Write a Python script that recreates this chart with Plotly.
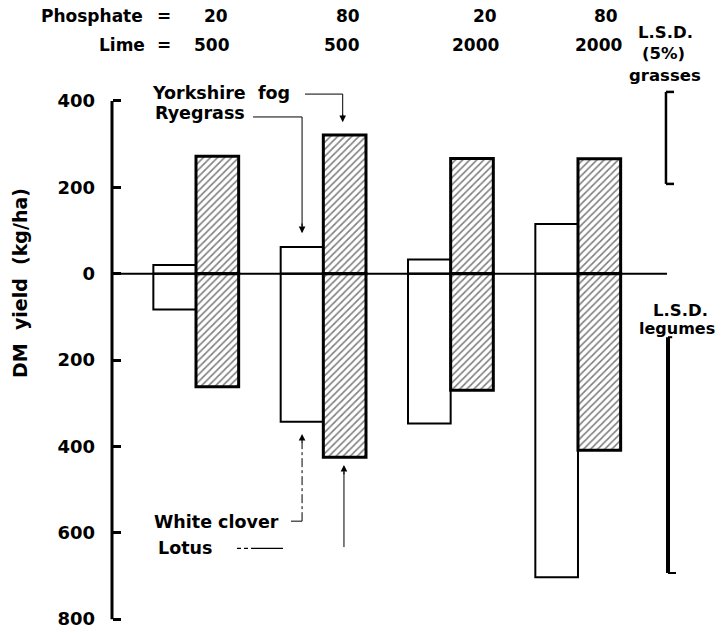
import plotly.graph_objects as go

# ---------------- data ----------------
groups = [1, 2, 3, 4]
phosphate = ['20', '80', '20', '80']
lime = ['500', '500', '2000', '2000']
ryegrass = [20, 62, 33, 115]          # grasses (up)
yorkshire_fog = [272, 321, 267, 266]
white_clover = [83, 343, 347, 703]    # legumes (down)
lotus = [262, 425, 270, 409]
lsd_grasses = [208, 421]              # bracket span (kg/ha, upward)
lsd_legumes = [147, 693]              # bar span (kg/ha, downward)
y_tickvals = [400, 200, 0, -200, -400, -600, -800]
y_ticktext = ['400', '200', '0', '200', '400', '600', '800']

# ---------------- layout constants ----------------
W = 0.335
X_RANGE = [0.1675, 5.1153]
Y_RANGE = [-832, 448.6]
X_AXIS = 0.3403
ML, MR, MT, MB = 90, 1, 80, 0
FIG_W, FIG_H = 721, 633
FONT = 'DejaVu Sans'


def PX(px):
    return (px - ML) / (FIG_W - ML - MR)


def PY(py):
    return (FIG_H - MB - py) / (FIG_H - MT - MB)


fig = go.Figure()
white = dict(color='white', line=dict(color='black', width=2))
hatch = dict(color='white', line=dict(color='black', width=3),
             pattern=dict(shape='/', size=5, solidity=0.32,
                          fgcolor='black', bgcolor='white'))

fig.add_bar(x=groups, y=ryegrass, width=W, offset=-W, marker=white,
            name='Ryegrass')
fig.add_bar(x=groups, y=[-v for v in white_clover], width=W, offset=-W,
            marker=white, name='White clover')
fig.add_bar(x=groups, y=yorkshire_fog, width=W, offset=0, marker=hatch,
            name='Yorkshire fog')
fig.add_bar(x=groups, y=[-v for v in lotus], width=W, offset=0, marker=hatch,
            name='Lotus')

shapes = []


def line(x0, y0, x1, y1, w=1.0, dash='solid'):
    shapes.append(dict(type='line', xref='x', yref='y', x0=x0, y0=y0,
                       x1=x1, y1=y1, line=dict(color='black', width=w, dash=dash)))


# axis line and zero line
line(X_AXIS, -800, X_AXIS, 400, 3)
line(X_AXIS, 0, 4.699, 0, 2)
# LSD grasses bracket
gx0, gx1 = 4.691, 4.754
line(gx1, lsd_grasses[1], gx0, lsd_grasses[1], 2.5)
line(gx0, lsd_grasses[1], gx0, lsd_grasses[0], 2.5)
line(gx0, lsd_grasses[0], gx1, lsd_grasses[0], 2.5)
# LSD legumes bar
lx = 4.707
line(lx, -lsd_legumes[0], lx, -lsd_legumes[1], 4)
line(lx, -lsd_legumes[1], 4.77, -lsd_legumes[1], 2)
line(lx, -lsd_legumes[0], 4.74, -lsd_legumes[0], 2)
# connectors
line(1.856, 416, 2.152, 416, 1)          # Yorkshire fog
line(2.152, 416, 2.152, 360, 1)
line(1.448, 363, 1.833, 363, 1)          # Ryegrass
line(1.833, 363, 1.833, 110, 1)
line(1.746, -573, 1.833, -573, 1)        # White clover
line(1.833, -573, 1.833, -390, 1, 'dashdot')
line(1.322, -636, 1.683, -636, 1.2, '4px,3px,4px,3px,40px')  # Lotus
line(2.162, -633, 2.162, -460, 1)

annotations = []


def arrow(x, y, ay):
    annotations.append(dict(x=x, y=y, ax=x, ay=ay, xref='x', yref='y',
                            axref='x', ayref='y', text='', showarrow=True,
                            arrowhead=2, arrowsize=1.1, arrowwidth=1.2,
                            arrowcolor='black'))


arrow(2.152, 351, 372)
arrow(1.833, 94, 120)
arrow(1.833, -371, -395)
arrow(2.162, -443, -468)


def text(t, px, py, size=17, xanchor='center'):
    annotations.append(dict(text=t, x=PX(px), y=PY(py), xref='paper',
                            yref='paper', showarrow=False, xanchor=xanchor,
                            yanchor='middle',
                            font=dict(family=FONT, size=size, color='black',
                                      weight='bold')))


# header
text('Phosphate', 145, 16, xanchor='right')
text('=', 164, 16)
text('Lime', 147, 45, xanchor='right')
text('=', 164, 45)
ph_x = [216, 348, 485, 606]
li_x = [212, 342, 475, 598]
for i in range(4):
    text(phosphate[i], ph_x[i], 16)
    text(lime[i], li_x[i], 45)
# LSD labels
text('L.S.D.', 665, 32, 16.5)
text('(5%)', 663, 53, 16.5)
text('grasses', 665, 75, 16.5)
text('L.S.D.', 680, 310, 16.5)
text('legumes', 677, 328, 16)
# species labels
text('Yorkshire  fog', 150, 93, 17.5, 'left')
text('Ryegrass', 153, 113, 17.5, 'left')
text('White clover', 152, 522, 17.5, 'left')
text('Lotus', 156, 548, 17.5, 'left')
# y title
annotations.append(dict(text='DM  yield  (kg/ha)', x=PX(20), y=PY(283),
                        xref='paper', yref='paper', showarrow=False,
                        textangle=-90, xanchor='center', yanchor='middle',
                        font=dict(family=FONT, size=19, color='black',
                                  weight='bold')))

fig.update_layout(
    width=FIG_W, height=FIG_H, autosize=False,
    margin=dict(l=ML, r=MR, t=MT, b=MB, pad=0),
    paper_bgcolor='white', plot_bgcolor='white',
    barmode='overlay', showlegend=False,
    font=dict(family=FONT, color='black'),
    xaxis=dict(range=X_RANGE, visible=False, fixedrange=True),
    yaxis=dict(range=Y_RANGE, anchor='free', position=PX(112),
               tickvals=y_tickvals, ticktext=y_ticktext, ticks='inside',
               ticklen=8, tickwidth=2.5, tickcolor='black',
               showline=False, showgrid=False, zeroline=False,
               ticklabelstandoff=17,
               tickfont=dict(family=FONT, size=18, color='black',
                             weight='bold')),
    shapes=shapes, annotations=annotations,
)

fig.write_html('out.html', config={'displayModeBar': False},
               post_script="document.body.style.margin='0';")
